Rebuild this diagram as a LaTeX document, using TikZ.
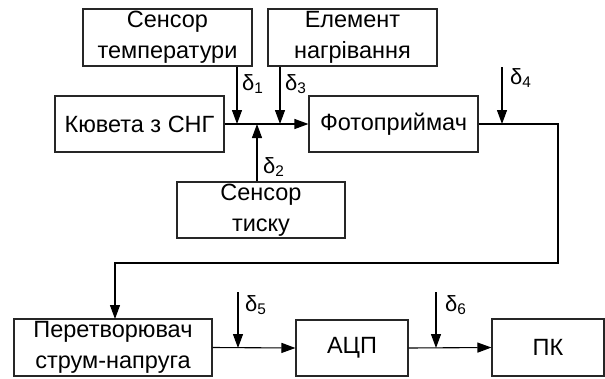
\documentclass[tikz,border=0pt]{standalone}
\usepackage{fontspec}
\setmainfont{Liberation Sans}
\usetikzlibrary{arrows.meta}
\begin{document}
\begin{tikzpicture}[x=1pt,y=-1pt,
  blk/.style={draw=black!85,line width=1.1pt,rectangle,inner sep=0pt,align=center,
    font=\fontsize{23.5}{31}\selectfont},
  arr/.style={line width=1.1pt,-{Triangle[length=14pt,width=10pt]}},
  dl/.style={anchor=west,inner sep=0pt,font=\fontsize{22}{22}\selectfont}]
\useasboundingbox (0,0) rectangle (605,378);
% blocks
\node[blk,minimum width=169pt,minimum height=57pt] (sT) at (167.5,37.5) {Сенсор\\температури};
\node[blk,minimum width=169pt,minimum height=57pt] (el) at (352.5,37.5) {Елемент\\нагрівання};
\node[blk,minimum width=169pt,minimum height=56pt] (kv) at (139.5,124) {Кювета з СНГ};
\node[blk,minimum width=169pt,minimum height=56pt] (fp) at (393.5,124) {Фотоприймач};
\node[blk,minimum width=168pt,minimum height=56pt] (sP) at (261,210) {Сенсор\\тиску};
\node[blk,minimum width=198pt,minimum height=57pt] (cv) at (113,347.5) {Перетворювач\\струм-напруга};
\node[blk,minimum width=112pt,minimum height=56pt] (adc) at (352,348) {АЦП};
\node[blk,minimum width=112pt,minimum height=57pt] (pc) at (548,347.5) {ПК};
% junction coordinates
\coordinate (d1) at (237,124);
\coordinate (d2) at (257,124);
\coordinate (d3) at (280,124);
\coordinate (d4) at (502,124);
\coordinate (d4t) at (502,67);
\coordinate (c1) at (558,263);
\coordinate (cin) at (115,319);
\coordinate (d5) at (238,348);
\coordinate (d5t) at (238,292);
\coordinate (d6) at (436,348);
\coordinate (d6t) at (436,292);
% connectors
\draw[arr] (kv.east) -- (fp.west);
\draw[arr] (sT.south -| d1) -- (d1);
\draw[arr] (el.south -| d3) -- (d3);
\draw[arr] (sP.north -| d2) -- (d2);
\draw[arr] (d4t) -- (d4);
\draw[arr] (fp.east) -| (c1) -| (cin);
\draw[arr] (cv.east) -- (adc.west);
\draw[arr] (d5t) -- (d5);
\draw[arr] (adc.east) -- (pc.west);
\draw[arr] (d6t) -- (d6);
% labels
\node[dl] (l1) at (242,84) {δ\textsubscript{1}};
\node[dl] (l3) at (285,84) {δ\textsubscript{3}};
\node[dl] (l2) at (263,167) {δ\textsubscript{2}};
\node[dl] (l4) at (510,78) {δ\textsubscript{4}};
\node[dl] (l5) at (245,305) {δ\textsubscript{5}};
\node[dl] (l6) at (445,305) {δ\textsubscript{6}};
\end{tikzpicture}
\end{document}
